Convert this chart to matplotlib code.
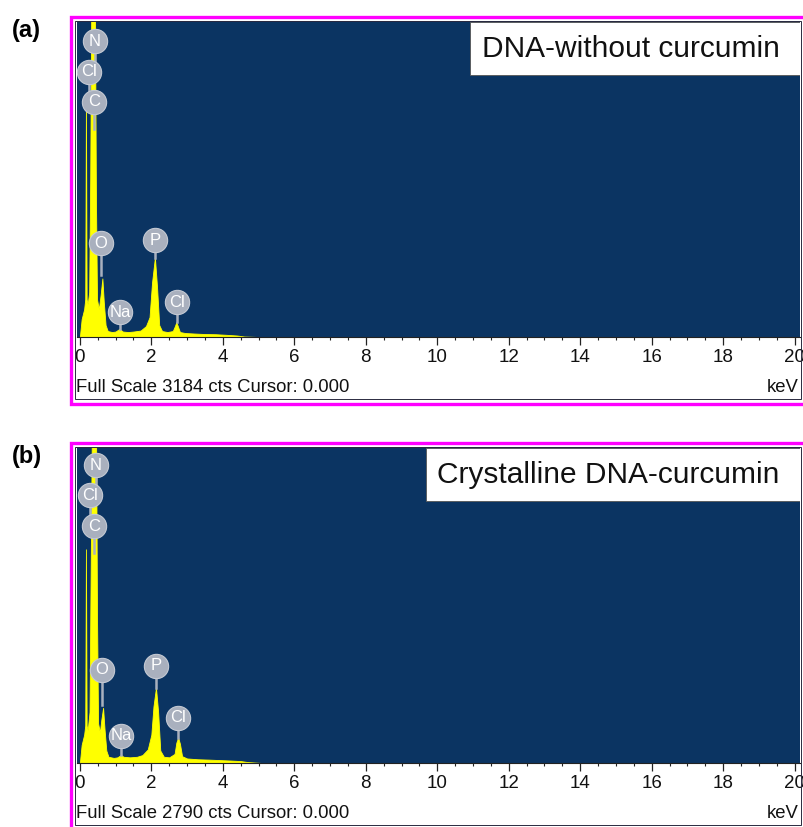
import matplotlib

matplotlib.use("Agg")
import matplotlib.pyplot as plt  # noqa: E402
from matplotlib.patches import Rectangle  # noqa: E402
from matplotlib.ticker import MultipleLocator  # noqa: E402

plt.rcParams["font.family"] = ["Liberation Sans", "DejaVu Sans"]

W, H = 804, 827

# --- spectrum (a): DNA without curcumin, outline (keV, counts)
energy_a = [0.00, 0.05, 0.12, 0.15, 0.17, 0.19, 0.22, 0.26, 0.29, 0.32, 0.37,
            0.42, 0.45, 0.48, 0.53, 0.58, 0.63, 0.67, 0.72, 0.78, 0.90, 1.00,
            1.10, 1.15, 1.20, 1.35, 1.50, 1.70, 1.85, 1.95, 2.02, 2.10, 2.16,
            2.22, 2.30, 2.45, 2.60, 2.66, 2.70, 2.74, 2.80, 2.95, 3.20, 3.50,
            3.80, 4.10, 4.40, 4.60, 5.00]
counts_a = [0, 180, 280, 380, 2380, 380, 330, 450, 1600, 3400, 3600,
            3400, 1400, 380, 280, 420, 590, 350, 120, 60, 50, 55,
            80, 70, 55, 50, 55, 65, 110, 200, 550, 800, 500,
            120, 60, 50, 60, 110, 150, 110, 50, 40, 35, 30,
            28, 22, 15, 5, 0]
full_scale_a = 3184
# element labels: (symbol, keV, label height, stem tip)
labels_a = [("N", 0.42, 2982, 2700), ("Cl", 0.25, 2671, 2400),
            ("C", 0.39, 2370, 2100), ("O", 0.59, 944, 620),
            ("P", 2.10, 974, 800), ("Na", 1.12, 251, 80),
            ("Cl", 2.71, 351, 150)]

# --- spectrum (b): crystalline DNA-curcumin
energy_b = [0.00, 0.05, 0.12, 0.15, 0.17, 0.19, 0.22, 0.27, 0.30, 0.34, 0.40,
            0.45, 0.48, 0.51, 0.56, 0.60, 0.65, 0.69, 0.74, 0.80, 0.95, 1.05,
            1.15, 1.22, 1.40, 1.60, 1.75, 1.90, 2.00, 2.06, 2.13, 2.19, 2.25,
            2.35, 2.50, 2.65, 2.70, 2.75, 2.80, 2.86, 3.00, 3.30, 3.60, 3.90,
            4.20, 4.50, 4.70, 5.10]
counts_b = [0, 160, 250, 330, 1887, 330, 290, 450, 1600, 3100, 3300,
            3100, 1300, 350, 270, 380, 487, 300, 110, 55, 45, 50,
            71, 55, 50, 55, 70, 120, 250, 500, 665, 450, 110,
            55, 50, 80, 180, 224, 170, 60, 40, 33, 30, 26,
            22, 17, 8, 0]
full_scale_b = 2790
labels_b = [("N", 0.45, 2631, 2400), ("Cl", 0.28, 2366, 2150),
            ("C", 0.39, 2091, 1850), ("O", 0.62, 824, 510),
            ("P", 2.13, 859, 665), ("Na", 1.15, 239, 71),
            ("Cl", 2.74, 399, 224)]

BLUE = "#0b3462"
YELLOW = "#ffff00"
MAGENTA = "#ff00ff"
BADGE = "#a9b0be"


def rect(x0, y0, x1, y1):
    """Pixel box (top-left origin) -> figure fraction [l, b, w, h]."""
    return [x0 / W, 1 - y1 / H, (x1 - x0) / W, (y1 - y0) / H]


def draw_panel(fig, top, bottom, energy, counts, full_scale, labels, title,
               box_x0, letter):
    # white frame with magenta border
    fig.add_artist(Rectangle((71 / W, 1 - bottom / H), 740 / W, (bottom - top) / H,
                             transform=fig.transFigure, fc="white",
                             ec=MAGENTA, lw=2.4, zorder=0))
    fig.add_artist(Rectangle((75.5 / W, 1 - (top + 382) / H), 725.5 / W, 378 / H,
                             transform=fig.transFigure, fc="none",
                             ec="#2a2a40", lw=0.7, zorder=0.5))

    ax = fig.add_axes(rect(77, top + 4, 800, top + 320))
    ax.set_facecolor(BLUE)
    ax.fill_between(energy, counts, 0, color=YELLOW, lw=0.6, ec=YELLOW, zorder=2)
    ax.set_xlim(-0.08, 20.15)
    ax.set_ylim(0, full_scale)
    for side in ("top", "right", "left"):
        ax.spines[side].set_visible(False)
    ax.spines["bottom"].set_color("#222222")
    ax.spines["bottom"].set_linewidth(0.8)
    ax.set_yticks([])
    ax.xaxis.set_major_locator(MultipleLocator(2))
    ax.xaxis.set_minor_locator(MultipleLocator(0.5))
    ax.tick_params(axis="x", which="major", direction="out", length=5.5,
                   width=0.9, color="#222222", pad=3, labelsize=13.5,
                   labelcolor="#111111")
    ax.tick_params(axis="x", which="minor", direction="out", length=2.5,
                   width=0.8, color="#222222")

    for sym, x, y, tip in labels:
        ax.plot([x, x], [tip, y], color=BADGE, lw=1.8, zorder=3)
        ax.plot(x, y, "o", ms=17.5, color=BADGE, mec="#c4c9d3", mew=0.8, zorder=4)
        ax.text(x, y, sym, color="white", fontsize=12, ha="center",
                va="center", zorder=5)

    # sample name box in the upper right
    x0 = (box_x0 - 77) / 723
    ax.add_patch(Rectangle((x0, 0.828), 1 - x0, 0.169, transform=ax.transAxes,
                           fc="white", ec="#555555", lw=0.6, zorder=6))
    ax.text((x0 + 1) / 2 - 0.006, 0.912, title, transform=ax.transAxes,
            fontsize=21.5, ha="center", va="center", color="#111111", zorder=7)

    fig.text(76 / W, 1 - (top + 371) / H,
             f"Full Scale {full_scale} cts Cursor: 0.000", fontsize=13.3,
             ha="left", va="center", color="#111111")
    fig.text(799 / W, 1 - (top + 371) / H, "keV", fontsize=13.3,
             ha="right", va="center", color="#111111")
    fig.text(12 / W, 1 - (top + 13) / H, letter, fontsize=17,
             fontweight="bold", ha="left", va="center")
    return ax


fig = plt.figure(figsize=(W / 100, H / 100), dpi=100)
fig.patch.set_facecolor("white")

draw_panel(fig, 17, 404, energy_a, counts_a, full_scale_a, labels_a,
           "DNA-without curcumin", 470, "(a)")
draw_panel(fig, 443, 840, energy_b, counts_b, full_scale_b, labels_b,
           "Crystalline DNA-curcumin", 426, "(b)")

fig.savefig("out.png", dpi=100)
